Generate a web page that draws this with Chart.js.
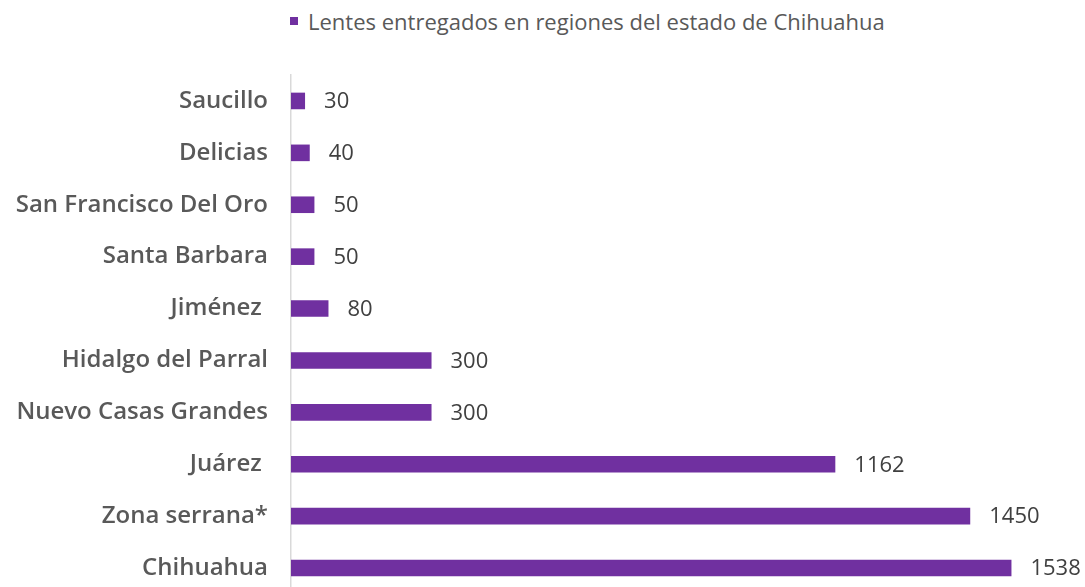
<!DOCTYPE html>
<html>
<head>
<meta charset="utf-8">
<script src="https://cdn.jsdelivr.net/npm/chart.js@4/dist/chart.umd.min.js"></script>
<style>
  html, body { margin: 0; padding: 0; background: #fff; overflow: hidden; }
  #legend {
    position: absolute; left: 290px; top: 6px;
    font-family: "Open Sans", sans-serif; font-size: 22px; color: #595959;
    white-space: nowrap; display: flex; align-items: center;
  }
  #legend .box { width: 8px; height: 8px; background: #7030A0; margin-right: 10px; }
  #chartBox { position: relative; width: 1085px; height: 594px; }
</style>
</head>
<body>
<div id="legend"><span class="box"></span><span id="legendText"></span></div>
<div id="chartBox"><canvas id="barChart"></canvas></div>
<script>
const seriesName = "Lentes entregados en regiones del estado de Chihuahua";
const regiones = [
  "Saucillo", "Delicias", "San Francisco Del Oro", "Santa Barbara", "Jiménez ",
  "Hidalgo del Parral", "Nuevo Casas Grandes", "Juárez ", "Zona serrana*", "Chihuahua"
];
const lentes = [30, 40, 50, 50, 80, 300, 300, 1162, 1450, 1538];
const barColor = "#7030A0";

document.getElementById("legendText").textContent = seriesName;

// value labels to the right of each bar
const valueLabels = {
  id: "valueLabels",
  afterDatasetsDraw(chart) {
    const c = chart.ctx;
    const meta = chart.getDatasetMeta(0);
    c.save();
    c.font = "22px 'Open Sans', sans-serif";
    c.fillStyle = "#404040";
    c.textBaseline = "middle";
    c.textAlign = "left";
    meta.data.forEach((bar, i) => {
      c.fillText(String(lentes[i]), bar.x + 19, bar.y + 1);
    });
    c.restore();
  },
};

const ctx = document.getElementById("barChart").getContext("2d");
new Chart(ctx, {
  type: "bar",
  data: {
    labels: regiones,
    datasets: [
      {
        label: seriesName,
        data: lentes,
        backgroundColor: barColor,
        borderWidth: 0,
        categoryPercentage: 1,
        barPercentage: 0.32,
      },
    ],
  },
  options: {
    indexAxis: "y",
    responsive: true,
    maintainAspectRatio: false,
    animation: false,
    layout: { padding: { top: 75, right: 0, bottom: 0, left: 0 } },
    plugins: {
      legend: { display: false },
      tooltip: { enabled: false },
    },
    scales: {
      x: {
        display: false,
        min: 0,
        max: 1695,
      },
      y: {
        grid: { display: false, drawTicks: false },
        border: { display: true, color: "#d9d9d9", width: 1.5 },
        ticks: {
          padding: 23,
          color: "#595959",
          font: { family: "'Open Sans', sans-serif", size: 24, weight: "600" },
        },
        afterFit(scale) {
          scale.width = 291; // keep axis line where the reference has it
          scale.paddingTop = 0;
          scale.paddingBottom = 0;
        },
      },
    },
  },
  plugins: [valueLabels],
});
</script>
</body>
</html>
